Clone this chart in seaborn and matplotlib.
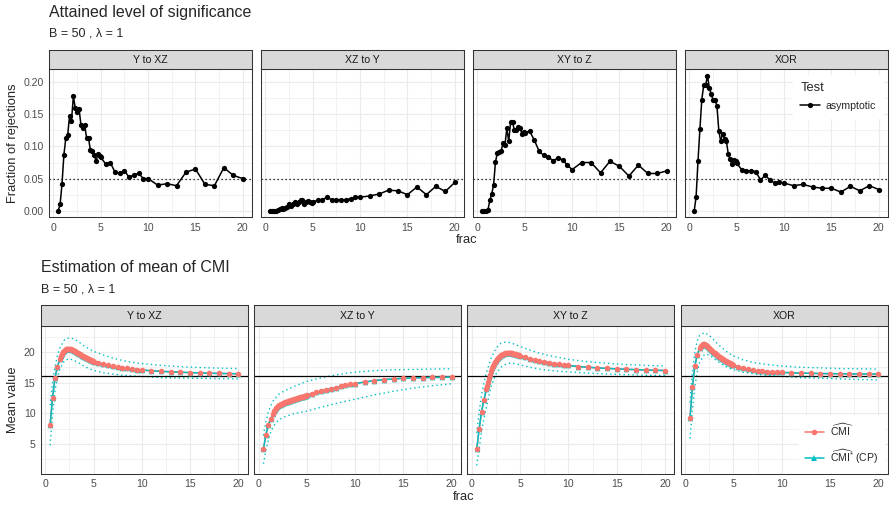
import numpy as np
import pandas as pd
import matplotlib
matplotlib.use('Agg')
import matplotlib.pyplot as plt
import seaborn as sns
from matplotlib.lines import Line2D

W, H = 889, 505

panels = ['Y to XZ', 'XZ to Y', 'XY to Z', 'XOR']

# ---- top chart: fraction of rejections (asymptotic test) ----
frac_test = [0.5, 0.7, 0.9, 1.1, 1.3, 1.5, 1.7, 1.9, 2.1, 2.3, 2.5, 2.7, 2.9, 3.1,
             3.3, 3.5, 3.7, 3.9, 4.1, 4.3, 4.5, 4.7, 4.9, 5.0,
             5.5, 6, 6.5, 7, 7.5, 8, 8.5, 9, 9.5, 10,
             11, 12, 13, 14, 15, 16, 17, 18, 19, 20]

rej_y_to_xz = [0.000, 0.010, 0.042, 0.087, 0.113, 0.118, 0.148, 0.140, 0.178, 0.160,
               0.153, 0.158, 0.134, 0.129, 0.133, 0.113, 0.113, 0.094, 0.093, 0.086,
               0.078, 0.088, 0.085, 0.083,
               0.073, 0.075, 0.060, 0.058, 0.062, 0.052, 0.056, 0.058, 0.050, 0.050,
               0.040, 0.042, 0.039, 0.060, 0.065, 0.041, 0.039, 0.067, 0.055, 0.050]
rej_xz_to_y = [0.000, 0.000, 0.000, 0.000, 0.001, 0.002, 0.004, 0.003, 0.004, 0.006,
               0.010, 0.008, 0.011, 0.014, 0.011, 0.014, 0.016, 0.017, 0.010, 0.013,
               0.015, 0.013, 0.012, 0.014,
               0.016, 0.017, 0.021, 0.017, 0.017, 0.017, 0.017, 0.019, 0.021, 0.021,
               0.023, 0.026, 0.032, 0.031, 0.025, 0.037, 0.025, 0.038, 0.030, 0.044]
rej_xy_to_z = [0.000, 0.000, 0.000, 0.001, 0.016, 0.026, 0.040, 0.076, 0.090, 0.092,
               0.093, 0.106, 0.102, 0.128, 0.108, 0.138, 0.138, 0.125, 0.125, 0.131,
               0.128, 0.120, 0.122, 0.121,
               0.124, 0.110, 0.093, 0.086, 0.083, 0.078, 0.082, 0.079, 0.071, 0.064,
               0.075, 0.075, 0.059, 0.077, 0.069, 0.054, 0.071, 0.058, 0.058, 0.062]
rej_xor = [0.000, 0.022, 0.078, 0.127, 0.173, 0.195, 0.195, 0.210, 0.191, 0.181,
           0.172, 0.172, 0.163, 0.124, 0.108, 0.120, 0.112, 0.108, 0.088, 0.080,
           0.072, 0.079, 0.078, 0.074,
           0.064, 0.062, 0.062, 0.061, 0.048, 0.055, 0.048, 0.043, 0.045, 0.043,
           0.039, 0.041, 0.037, 0.035, 0.035, 0.029, 0.038, 0.031, 0.039, 0.033]

# ---- bottom chart: mean of CMI estimates ----
frac_cmi = [0.5, 0.75, 1.0, 1.25,
            1.5, 1.6, 1.7, 1.8, 1.9, 2.0, 2.1, 2.2, 2.3, 2.4, 2.5, 2.6, 2.7, 2.8,
            2.9, 3.0, 3.1, 3.2, 3.3, 3.4, 3.5, 3.6, 3.7, 3.8, 3.9, 4.0, 4.1, 4.2,
            4.3, 4.4, 4.5, 4.6, 4.7, 4.8, 4.9, 5.0,
            5.5, 6, 6.5, 7, 7.5, 8, 8.5, 9, 9.5, 10,
            11, 12, 13, 14, 15, 16, 17, 18, 19, 20]

cmi_y_to_xz = [8.1, 12.55, 15.75, 17.5,
               18.8, 19.35, 19.7, 19.95, 20.15, 20.3, 20.4, 20.47, 20.52, 20.54,
               20.52, 20.48, 20.42, 20.35, 20.27, 20.18, 20.08, 19.98, 19.88, 19.78,
               19.68, 19.58, 19.48, 19.38, 19.29, 19.2, 19.11, 19.02, 18.94, 18.86,
               18.78, 18.7, 18.63, 18.56, 18.49, 18.42,
               18.2, 18.0, 17.83, 17.67, 17.52, 17.4, 17.3, 17.21, 17.13, 17.05,
               16.93, 16.84, 16.76, 16.69, 16.63, 16.58, 16.53, 16.5, 16.47, 16.44]
cmi_xz_to_y = [4.13, 6.45, 8.1, 9.1,
               9.9, 10.3, 10.6, 10.85, 11.05, 11.2, 11.32, 11.42, 11.5, 11.58,
               11.65, 11.71, 11.77, 11.83, 11.88, 11.93, 11.98, 12.03, 12.08, 12.13,
               12.18, 12.23, 12.28, 12.33, 12.38, 12.43, 12.48, 12.53, 12.58, 12.63,
               12.68, 12.73, 12.78, 12.83, 12.88, 12.93,
               13.2, 13.42, 13.63, 13.83, 14.02, 14.2, 14.38, 14.55, 14.7, 14.84,
               15.1, 15.32, 15.5, 15.6, 15.7, 15.76, 15.8, 15.84, 15.86, 15.88]
cmi_xy_to_z = [4.13, 7.4, 10.27, 12.17,
               13.9, 14.5, 15.1, 15.7, 16.3, 16.9, 17.3, 17.7, 18.05, 18.35,
               18.6, 18.82, 19.0, 19.17, 19.32, 19.45, 19.56, 19.65, 19.72, 19.78,
               19.82, 19.85, 19.87, 19.88, 19.87, 19.85, 19.82, 19.78, 19.74, 19.7,
               19.65, 19.6, 19.55, 19.49, 19.43, 19.37,
               19.1, 18.85, 18.65, 18.48, 18.35, 18.22, 18.1, 18.0, 17.9, 17.8,
               17.62, 17.5, 17.4, 17.32, 17.24, 17.17, 17.11, 17.06, 17.01, 16.97]
cmi_xor = [9.3, 14.3, 17.7, 19.5,
           20.7, 21.0, 21.2, 21.3, 21.3, 21.27, 21.2, 21.1, 20.98, 20.84,
           20.68, 20.52, 20.36, 20.2, 20.05, 19.9, 19.76, 19.62, 19.49, 19.36,
           19.24, 19.12, 19.0, 18.89, 18.78, 18.68, 18.58, 18.48, 18.39, 18.3,
           18.22, 18.14, 18.06, 17.99, 17.92, 17.85,
           17.55, 17.33, 17.15, 17.02, 16.92, 16.85, 16.79, 16.74, 16.7, 16.66,
           16.6, 16.55, 16.51, 16.48, 16.46, 16.44, 16.42, 16.41, 16.4, 16.39]

# the CP estimate sits right on top of the plain estimate in the picture
cp_y_to_xz = list(cmi_y_to_xz)
cp_xz_to_y = list(cmi_xz_to_y)
cp_xy_to_z = list(cmi_xy_to_z)
cp_xor = list(cmi_xor)

# dotted spread band of the CP estimate
frac_band = [0.5, 0.75, 1, 1.25, 1.5, 2, 2.5, 3, 3.5, 4, 4.5, 5,
             6, 7, 8, 9, 10, 12, 14, 16, 18, 20]
upper_y_to_xz = [11.3, 15.0, 17.6, 19.3, 20.6, 22.0, 22.3, 22.1, 21.6, 21.0, 20.5,
                 20.1, 19.5, 19.0, 18.6, 18.3, 18.1, 17.8, 17.6, 17.45, 17.35, 17.3]
lower_y_to_xz = [4.8, 9.8, 13.6, 15.8, 17.2, 18.6, 18.9, 18.6, 18.2, 17.7, 17.3,
                 17.0, 16.6, 16.4, 16.2, 16.1, 16.0, 15.8, 15.75, 15.7, 15.65, 15.6]
upper_xz_to_y = [6.4, 8.6, 10.2, 11.2, 12.0, 13.0, 13.5, 13.9, 14.25, 14.6, 14.9,
                 15.2, 15.6, 15.95, 16.25, 16.5, 16.7, 16.95, 17.1, 17.15, 17.2, 17.25]
lower_xz_to_y = [1.8, 3.9, 5.6, 6.9, 7.8, 8.8, 9.3, 9.6, 9.85, 10.05, 10.2,
                 10.35, 10.8, 11.2, 11.6, 11.95, 12.3, 13.0, 13.6, 14.1, 14.5, 14.8]
upper_xy_to_z = [6.8, 10.2, 13.0, 15.0, 16.6, 19.0, 20.6, 21.4, 21.6, 21.5, 21.2,
                 20.9, 20.3, 19.8, 19.4, 19.1, 18.8, 18.4, 18.15, 17.95, 17.8, 17.7]
lower_xy_to_z = [1.5, 4.2, 7.0, 9.2, 11.0, 14.4, 16.4, 17.5, 18.0, 18.2, 18.1,
                 17.9, 17.5, 17.2, 17.0, 16.85, 16.75, 16.55, 16.4, 16.3, 16.2, 16.15]
upper_xor = [11.8, 16.8, 20.0, 21.8, 22.7, 23.15, 22.7, 21.9, 21.1, 20.4, 19.8,
             19.35, 18.7, 18.3, 18.05, 17.85, 17.7, 17.5, 17.4, 17.3, 17.25, 17.2]
lower_xor = [5.9, 10.6, 14.3, 16.7, 18.3, 19.6, 19.5, 18.9, 18.3, 17.8, 17.4,
             17.1, 16.7, 16.45, 16.25, 16.1, 16.0, 15.8, 15.7, 15.6, 15.5, 15.45]

true_cmi = 16
alpha = 0.05

RED = '#F8766D'
TEAL = '#00BFC4'
BORDER = '#333333'
GRID = '#EBEBEB'

# long tables
rej = {'Y to XZ': rej_y_to_xz, 'XZ to Y': rej_xz_to_y, 'XY to Z': rej_xy_to_z, 'XOR': rej_xor}
df_test = pd.concat([pd.DataFrame({'panel': p, 'frac': frac_test, 'rejections': rej[p]})
                     for p in panels], ignore_index=True)

cmi = {'Y to XZ': cmi_y_to_xz, 'XZ to Y': cmi_xz_to_y, 'XY to Z': cmi_xy_to_z, 'XOR': cmi_xor}
cp = {'Y to XZ': cp_y_to_xz, 'XZ to Y': cp_xz_to_y, 'XY to Z': cp_xy_to_z, 'XOR': cp_xor}
df_cmi = pd.concat([pd.DataFrame({'panel': p, 'frac': frac_cmi, 'hat': cmi[p], 'cp': cp[p]})
                    for p in panels], ignore_index=True)

upper = {'Y to XZ': upper_y_to_xz, 'XZ to Y': upper_xz_to_y, 'XY to Z': upper_xy_to_z, 'XOR': upper_xor}
lower = {'Y to XZ': lower_y_to_xz, 'XZ to Y': lower_xz_to_y, 'XY to Z': lower_xy_to_z, 'XOR': lower_xor}
df_band = pd.concat([pd.DataFrame({'panel': p, 'frac': frac_band, 'upper': upper[p], 'lower': lower[p]})
                     for p in panels], ignore_index=True)

sns.set_theme(style='white')
plt.rcParams['font.family'] = ['Liberation Sans', 'DejaVu Sans']
plt.rcParams['mathtext.fontset'] = 'custom'
plt.rcParams['mathtext.rm'] = 'Liberation Sans'
plt.rcParams['mathtext.it'] = 'Liberation Sans:italic'
plt.rcParams['mathtext.bf'] = 'Liberation Sans:bold'

fig = plt.figure(figsize=(W / 100, H / 100), dpi=100)


def px_axes(x0, y0, x1, y1):
    return fig.add_axes([x0 / W, 1 - y1 / H, (x1 - x0) / W, (y1 - y0) / H])


def add_strip(x0, y0, x1, y1, label):
    sax = px_axes(x0, y0, x1, y1)
    sax.set_facecolor('#D9D9D9')
    sax.set_xticks([])
    sax.set_yticks([])
    for s in sax.spines.values():
        s.set_color(BORDER)
        s.set_linewidth(0.75)
    sax.text(0.5, 0.47, label, ha='center', va='center', fontsize=7.6,
             color='#1A1A1A', transform=sax.transAxes)


def style_panel(ax, first):
    ax.set_facecolor('white')
    for s in ax.spines.values():
        s.set_color(BORDER)
        s.set_linewidth(0.75)
    ax.set_xlim(-0.475, 20.975)
    ax.set_xticks([0, 5, 10, 15, 20])
    ax.set_xticks([2.5, 7.5, 12.5, 17.5], minor=True)
    ax.grid(True, which='major', color=GRID, lw=0.8)
    ax.grid(True, which='minor', color=GRID, lw=0.45)
    ax.set_axisbelow(True)
    ax.tick_params(which='major', direction='out', length=2.3, width=0.7,
                   color=BORDER, labelsize=7.6, labelcolor='#4D4D4D', pad=1.5)
    ax.tick_params(which='minor', length=0)
    if not first:
        ax.tick_params(axis='y', which='both', left=False, labelleft=False)
    ax.set_xlabel('')
    ax.set_ylabel('')


# ---------------- top chart ----------------
top_left = [49, 261, 473, 685]
top_w = 203
for i, p in enumerate(panels):
    x0 = top_left[i]
    ax = px_axes(x0, 69, x0 + top_w, 217.5)
    add_strip(x0, 49.5, x0 + top_w, 69, p)
    ax.axhline(alpha, color='black', ls=(0, (1, 2.2)), lw=0.9)
    sns.lineplot(data=df_test[df_test['panel'] == p], x='frac', y='rejections', ax=ax,
                 color='black', lw=1.1, marker='o', markersize=3.8,
                 markeredgecolor='black', markeredgewidth=0, estimator=None,
                 legend=False)
    style_panel(ax, i == 0)
    ax.set_ylim(-0.0105, 0.2205)
    ax.set_yticks([0, 0.05, 0.10, 0.15, 0.20])
    ax.set_yticks([0.025, 0.075, 0.125, 0.175], minor=True)
    if i == 0:
        ax.set_yticklabels(['0.00', '0.05', '0.10', '0.15', '0.20'])

fig.text(49 / W, 1 - 12.5 / H, 'Attained level of significance', fontsize=11.5,
         va='center', ha='left')
fig.text(49 / W, 1 - 33 / H, 'B = 50 , λ = 1', fontsize=9, va='center', ha='left')
fig.text(13 / W, 1 - 143 / H, 'Fraction of rejections', fontsize=9.3, rotation=90,
         va='center', ha='center')
fig.text(467 / W, 1 - 240 / H, 'frac', fontsize=9.3, va='center', ha='center')

top_handles = [Line2D([], [], color='black', lw=1.1, marker='o', markersize=3.8,
                      markeredgewidth=0)]
fig.legend(top_handles, ['asymptotic'], title='Test', loc='upper left',
           bbox_to_anchor=(793 / W, 1 - 75 / H), frameon=True, fancybox=False,
           facecolor='white', edgecolor='white', framealpha=1, fontsize=7.6,
           title_fontsize=9.3, handlelength=1.9, handletextpad=0.5,
           borderpad=0.7, labelspacing=0.6, alignment='left', borderaxespad=0)

# ---------------- bottom chart ----------------
bot_left = [40.7, 254, 467.3, 680.6]
bot_w = 207
dot = (0, (1, 2.2))
for i, p in enumerate(panels):
    x0 = bot_left[i]
    ax = px_axes(x0, 325.5, x0 + bot_w, 473.5)
    add_strip(x0, 304.5, x0 + bot_w, 325.5, p)
    band = df_band[df_band['panel'] == p]
    sub = df_cmi[df_cmi['panel'] == p]
    sns.lineplot(data=band, x='frac', y='upper', ax=ax, color=TEAL, lw=1.0, ls=dot,
                 estimator=None, legend=False)
    sns.lineplot(data=band, x='frac', y='lower', ax=ax, color=TEAL, lw=1.0, ls=dot,
                 estimator=None, legend=False)
    ax.axhline(true_cmi, color='black', lw=0.9)
    sns.lineplot(data=sub, x='frac', y='hat', ax=ax, color=RED, lw=1.1,
                 estimator=None, legend=False)
    sns.lineplot(data=sub, x='frac', y='cp', ax=ax, color=TEAL, lw=1.1,
                 estimator=None, legend=False)
    sns.scatterplot(data=sub, x='frac', y='cp', ax=ax, color=TEAL, marker='^',
                    s=16, linewidth=0, legend=False, zorder=3)
    sns.scatterplot(data=sub, x='frac', y='hat', ax=ax, color=RED, marker='o',
                    s=16, linewidth=0, legend=False, zorder=4)
    style_panel(ax, i == 0)
    ax.set_ylim(0.2, 24.3)
    ax.set_yticks([5, 10, 15, 20])
    ax.set_yticks([2.5, 7.5, 12.5, 17.5, 22.5], minor=True)

fig.text(41 / W, 1 - 268 / H, 'Estimation of mean of CMI', fontsize=11.5,
         va='center', ha='left')
fig.text(41 / W, 1 - 289 / H, 'B = 50 , λ = 1', fontsize=9, va='center', ha='left')
fig.text(13 / W, 1 - 400 / H, 'Mean value', fontsize=9.3, rotation=90,
         va='center', ha='center')
fig.text(464 / W, 1 - 497 / H, 'frac', fontsize=9.3, va='center', ha='center')

bot_handles = [Line2D([], [], color=RED, lw=1.1, marker='o', markersize=4.0,
                      markeredgewidth=0),
               Line2D([], [], color=TEAL, lw=1.1, marker='^', markersize=4.2,
                      markeredgewidth=0)]
bot_labels = [r'$\widehat{\mathrm{CMI}}$', r'$\widehat{\mathrm{CMI}}^{*}$ (CP)']
fig.legend(bot_handles, bot_labels, loc='upper left',
           bbox_to_anchor=(799 / W, 1 - 416 / H), frameon=True, fancybox=False,
           facecolor='white', edgecolor='white', framealpha=1, fontsize=7.6,
           handlelength=1.8, handletextpad=0.6, borderpad=0.55, labelspacing=0.9,
           borderaxespad=0)

fig.savefig('out.png', dpi=100)
